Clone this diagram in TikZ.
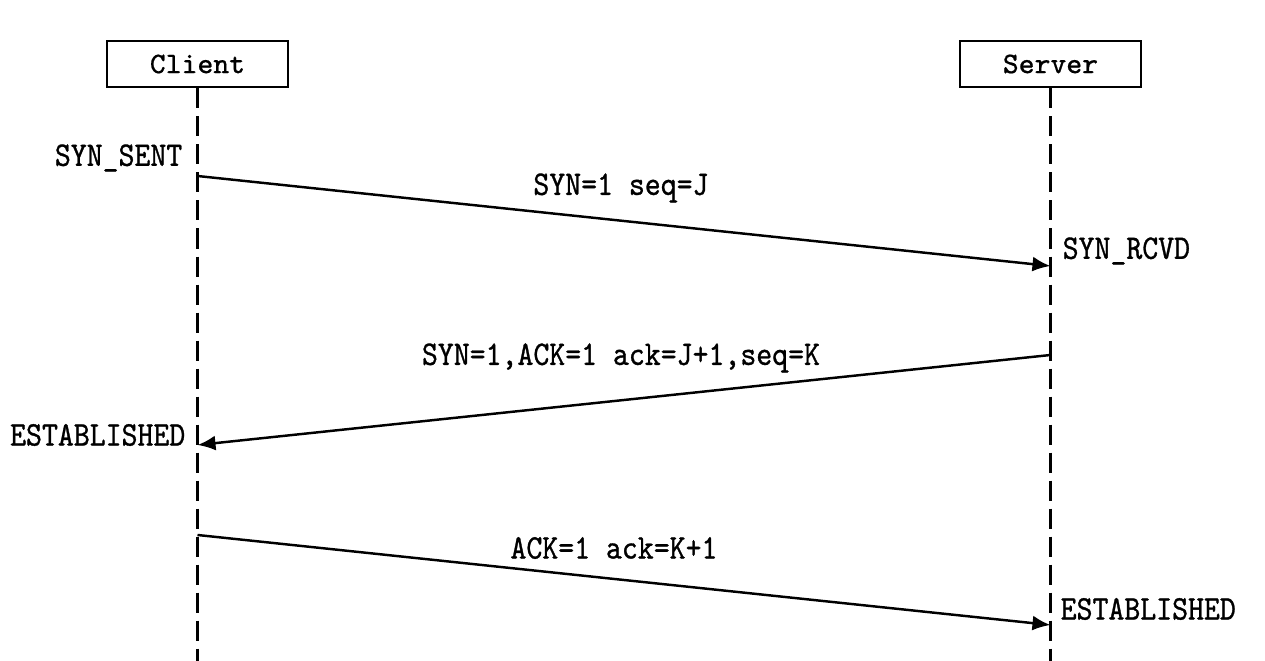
\documentclass[tikz,border=0pt]{standalone}
\usepackage{fontspec}
\newfontfamily\msgfont[FakeStretch=0.88,FakeBold=0.9]{Latin Modern Mono}
\newfontfamily\boxfont[FakeBold=0.6]{Latin Modern Mono}
\usetikzlibrary{arrows.meta,calc}

\begin{document}
\begin{tikzpicture}[x=0.01cm, y=-0.01cm,
    font=\msgfont\fontsize{9.8}{12}\selectfont,
    actor/.style={draw, line width=0.8pt, minimum width=1.81cm, minimum height=0.46cm, inner sep=0pt,
        font=\boxfont\fontsize{8.5}{10}\selectfont},
    lifeline/.style={line width=0.9pt, dash pattern=on 0.2cm off 0.08cm},
    msg/.style={line width=0.7pt, -{Latex[length=0.18cm, width=0.15cm]}},
    state/.style={inner sep=0pt}]
    \useasboundingbox (0,0) rectangle (1265,661);

    \node[actor] (client) at (197.5,64) {Client};
    \node[actor] (server) at (1050.5,64) {Server};
    \coordinate (clientEnd) at (client |- 0,661); \coordinate (serverEnd) at (server |- 0,661);
    \draw[lifeline] (client.south) -- (clientEnd);
    \draw[lifeline] (server.south) -- (serverEnd);

    % points on the lifelines
    \foreach \p/\y in {c1/176, c2/445, c3/535} { \coordinate (\p) at (client |- 0,\y); }
    \foreach \p/\y in {s1/266, s2/355, s3/625} { \coordinate (\p) at (server |- 0,\y); }

    \draw[msg] (c1) -- (s1);
    \draw[msg] (s2) -- (c2);
    \draw[msg] (c3) -- (s3);

    \node (m1) at (621,188) {SYN=1 seq=J};
    \node (m2) at (621,358) {SYN=1,ACK=1 ack=J+1,seq=K};
    \node (m3) at (614,548) {ACK=1 ack=K+1};

    \node[state, anchor=east] (sent) at (183,158) {SYN\_SENT};
    \node[state, anchor=west] (rcvd) at (1062,251) {SYN\_RCVD};
    \node[state, anchor=east] (estC) at (186,435) {ESTABLISHED};
    \node[state, anchor=west] (estS) at (1060,609) {ESTABLISHED};
\end{tikzpicture}
\end{document}
